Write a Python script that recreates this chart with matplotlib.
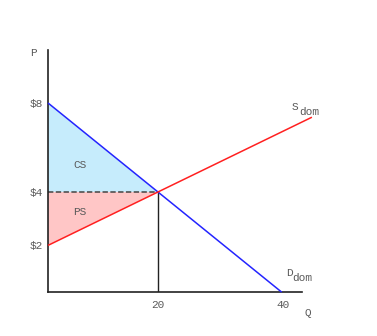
import matplotlib
matplotlib.use("Agg")
import matplotlib.pyplot as plt

# ---- data (P = price, Q = quantity) ----
demand_q = [0, 20, 42.5]
demand_p = [8, 4, -0.5]
supply_q = [0, 20, 48]
supply_p = [1.6, 4, 7.36]
eq_q, eq_p = 20, 4
ytick_pos = [1.6, 4, 8]
ytick_lab = ["$2", "$4", "$8"]
xtick_pos = [20, 42.7]
xtick_lab = ["20", "40"]

W, H = 377, 336
fig = plt.figure(figsize=(W / 100, H / 100), dpi=100)
ax = fig.add_axes([48 / W, 44 / H, 254 / W, 242 / H])
ax.set_xlim(0, 46.2)
ax.set_ylim(-0.494, 10.38)

FONT = "Liberation Mono"
TXT = "#5a5a5a"

# surplus areas
ax.fill([0, eq_q, 0], [demand_p[0], eq_p, eq_p], color="#c6ecfc", lw=0, zorder=1)
ax.fill([0, eq_q, 0], [eq_p, eq_p, supply_p[0]], color="#ffc6c6", lw=0, zorder=1)

# curves
ax.plot(demand_q, demand_p, color="#2424ff", lw=1.1, zorder=3, clip_on=False, solid_capstyle="butt")
ax.plot(supply_q, supply_p, color="#ff2020", lw=1.1, zorder=3, clip_on=False, solid_capstyle="butt")
ax.plot([0, eq_q], [eq_p, eq_p], color="#444444", lw=1.1, ls=(0, (3.5, 1.6)), zorder=2)
ax.plot([eq_q, eq_q], [eq_p, -0.494], color="#222222", lw=1.0, zorder=2)

for s in ["top", "right"]:
    ax.spines[s].set_visible(False)
for s in ["left", "bottom"]:
    ax.spines[s].set_linewidth(1.2)
    ax.spines[s].set_color("#222222")
ax.set_facecolor("none")

ax.set_yticks(ytick_pos, ytick_lab)
ax.set_xticks(xtick_pos, xtick_lab)
ax.tick_params(length=0, labelsize=8, labelcolor=TXT)
ax.tick_params(axis="y", pad=4)
ax.tick_params(axis="x", pad=6)
for t in ax.get_xticklabels() + ax.get_yticklabels():
    t.set_fontfamily(FONT)

def px(x, y):
    return x / W, 1 - y / H

kw = dict(fontfamily=FONT, fontsize=8, color=TXT)
fig.text(*px(33, 53), "P", ha="center", va="center", **kw)
fig.text(*px(308, 313), "Q", ha="center", va="center", **kw)
fig.text(*px(80, 165), "CS", ha="center", va="center", **kw)
fig.text(*px(80, 212), "PS", ha="center", va="center", **kw)
fig.text(*px(292, 110), "S", ha="left", va="baseline", **kw)
fig.text(*px(299, 115), "dom", ha="left", va="baseline", **kw)
fig.text(*px(286, 276), "D", ha="left", va="baseline", **kw)
fig.text(*px(292, 281), "dom", ha="left", va="baseline", **kw)

fig.savefig("out.png", dpi=100)
